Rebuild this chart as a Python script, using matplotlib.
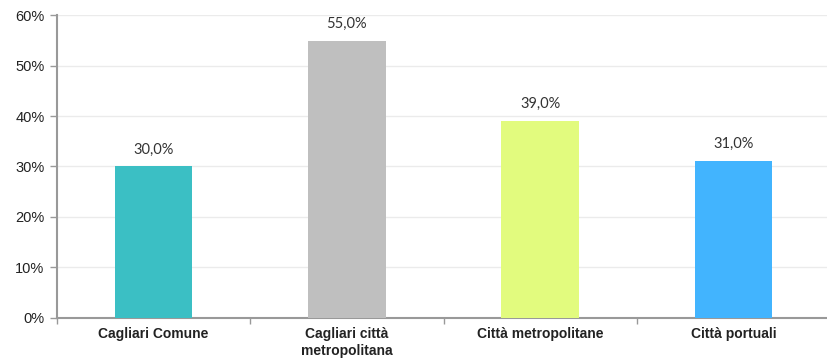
import matplotlib
matplotlib.use("Agg")
import matplotlib.pyplot as plt
import numpy as np

categories = ["Cagliari Comune", "Cagliari città\nmetropolitana", "Città metropolitane", "Città portuali"]
values = [30.0, 55.0, 39.0, 31.0]
colors = ["#3bbfc4", "#bfbfbf", "#e2fb7e", "#42b4fe"]
yticks = [0, 10, 20, 30, 40, 50, 60]

fig = plt.figure(figsize=(8.27, 3.61), dpi=100)
ax = fig.add_axes([57 / 827, 0.120, 773 / 827, 0.8376])

x = np.arange(len(categories))
ax.bar(x, values, width=0.40, color=colors, zorder=3)

# value labels above the bars, Italian decimal comma
for xi, v in zip(x, values):
    ax.text(xi, v + 2.0, f"{v:.1f}%".replace(".", ","), ha="center", va="bottom",
            fontsize=10.5, family="Lato", color="#333333")

ax.set_xlim(-0.5, len(categories) - 0.5)
ax.set_ylim(0, 60)
ax.set_yticks(yticks)
ax.set_yticklabels([f"{t}%" for t in yticks], family="Liberation Sans", fontsize=10.5, color="#222222")
ax.grid(axis="y", color="#ebebeb", linewidth=1, zorder=0)

ax.set_xticks(x)
ax.set_xticklabels(categories, family="Liberation Sans", fontweight="bold", fontsize=10, color="#222222")
ax.tick_params(axis="x", length=0, pad=7)
ax.set_xticks(np.arange(len(categories) + 1) - 0.5, minor=True)
ax.tick_params(axis="x", which="minor", length=4, color="#999999", width=1)
ax.tick_params(axis="y", length=5, color="#999999", width=1, pad=4)

for s in ["top", "right"]:
    ax.spines[s].set_visible(False)
for s in ["left", "bottom"]:
    ax.spines[s].set_color("#999999")
    ax.spines[s].set_linewidth(1.5)

fig.savefig("out.png", dpi=100)
